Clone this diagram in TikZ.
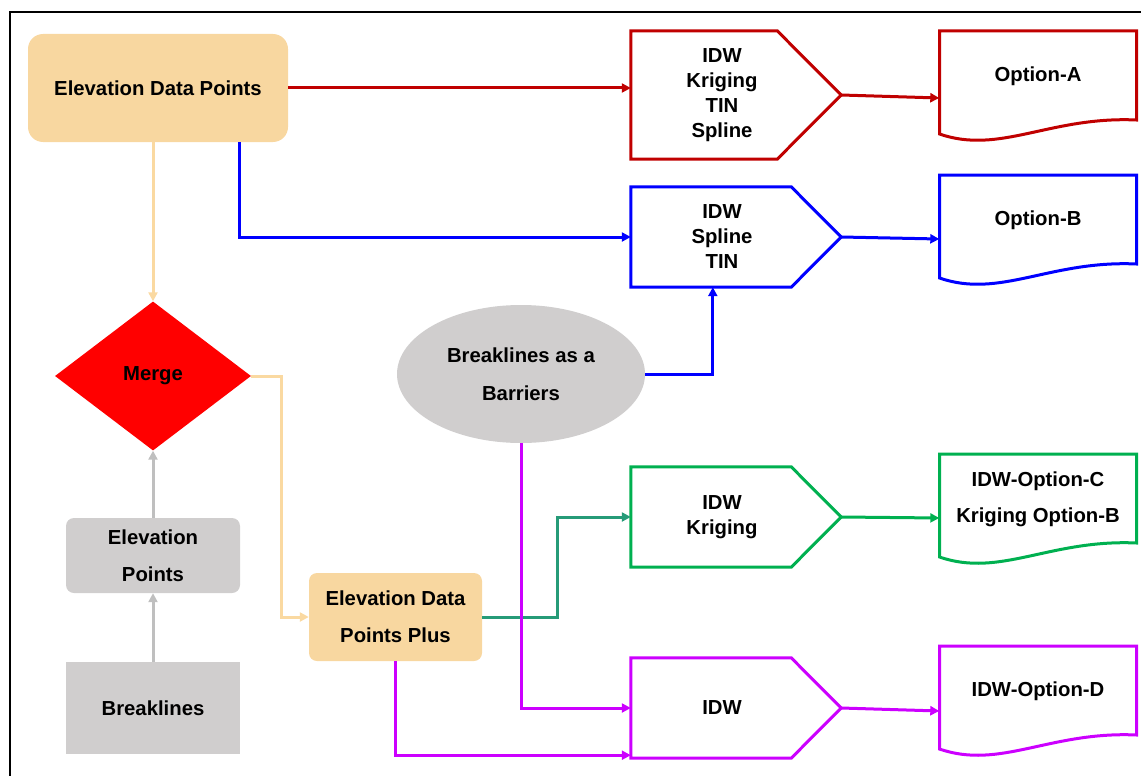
\documentclass[tikz,border=0pt]{standalone}
\usepackage{fontspec}
\setmainfont{Liberation Sans}
\usetikzlibrary{shapes.geometric,calc,arrows.meta}

\definecolor{peach}{RGB}{248,215,160}
\definecolor{peachline}{RGB}{250,217,161}
\definecolor{greybox}{RGB}{208,206,206}
\definecolor{greyline}{RGB}{191,191,191}
\definecolor{darkred}{RGB}{192,0,0}
\definecolor{pureblue}{RGB}{0,0,255}
\definecolor{flowgreen}{RGB}{0,176,80}
\definecolor{tealline}{RGB}{38,155,120}
\definecolor{violetline}{RGB}{204,0,255}

\tikzset{
  lbl/.style={font=\fontsize{20.3}{25}\selectfont\bfseries, align=center, text=black},
  box/.style={lbl, inner sep=0pt},
  conn/.style={line width=3pt, -{Triangle[length=9pt,width=9pt]}},
  outline/.style={line width=3pt, line join=miter},
  methodbox/.style={box, minimum width=182pt},
  docbox/.style={box, minimum width=197pt, minimum height=100pt},
}

% pentagon pointing right; the node covers the text area, the point sticks out 28pt
% arguments: node, colour, half height
\newcommand\pentaoutline[3]{%
  \draw[outline,#2] (#1.north west) -- ($(#1.north east)+(28-#3,0)$) -- ($(#1.east)+(28,0)$)
    -- ($(#1.south east)+(28-#3,0)$) -- (#1.south west) -- cycle;}
% document with wavy bottom edge: node, colour
\newcommand\docoutline[2]{%
  \draw[outline,#2] ($(#1.center)+(-98.5,-45)$) -- ($(#1.center)+(98.5,-45)$)
    -- ($(#1.center)+(98.5,44)$)
    .. controls ($(#1.center)+(12,40)$) and ($(#1.center)+(-38,79)$) ..
    ($(#1.center)+(-98.5,58)$) -- cycle;}

\begin{document}
\begin{tikzpicture}[x=1pt,y=-1pt]
\useasboundingbox (0,0) rectangle (1141,776);

% frame
\draw[line width=2pt] (10,776) -- (10,12) -- (1141,12);

% left column
\node[box, fill=peach, rounded corners=15pt, minimum width=260pt, minimum height=108pt] (edp) at (158,88) {Elevation Data Points};
\node[box, diamond, fill=red, minimum width=196pt, minimum height=149pt] (merge) at (153,376) {Merge};
\node[box, fill=greybox, rounded corners=8pt, minimum width=174pt, minimum height=75pt] (ep) at (153,555.5) {Elevation\\[12pt]Points};
\node[box, fill=greybox, minimum width=174pt, minimum height=92pt] (brk) at (153,708) {Breaklines};
\node[box, fill=peach, rounded corners=8pt, minimum width=173pt, minimum height=88pt] (edpp) at (395.5,617) {Elevation Data\\[12pt]Points Plus};
\node[box, ellipse, fill=greybox, minimum width=248pt, minimum height=138pt] (bar) at (521,374) {Breaklines as a\\[13pt]Barriers};

% interpolation methods
\node[methodbox, minimum height=128pt] (pA) at (722,95) {IDW\\Kriging\\TIN\\Spline};
\node[methodbox, minimum height=100pt] (pB) at (722,237) {IDW\\Spline\\TIN};
\node[methodbox, minimum height=100pt] (pC) at (722,517) {IDW\\Kriging};
\node[methodbox, minimum height=100pt] (pD) at (722,708) {IDW};
\pentaoutline{pA}{darkred}{64}
\pentaoutline{pB}{pureblue}{50}
\pentaoutline{pC}{flowgreen}{50}
\pentaoutline{pD}{violetline}{50}

% outputs
\node[docbox] (docA) at (1038,76) {Option-A};
\node[docbox] (docB) at (1038,220) {Option-B};
\node[docbox] (docC) at (1038,499) {IDW-Option-C\\[11pt]Kriging Option-B};
\node[docbox] (docD) at (1038,691) {IDW-Option-D};
\docoutline{docA}{darkred}
\docoutline{docB}{pureblue}
\docoutline{docC}{flowgreen}
\docoutline{docD}{violetline}

% connectors
\draw[conn, darkred] (edp.east) -- (edp.east -| pA.west);
\draw[conn, darkred] ($(pA.east)+(28,0)$) -- ($(docA.west)+(0,22)$);
\draw[conn, pureblue] ($(edp.south east)+(-49,0)$) |- (pB.west);
\draw[conn, pureblue] (bar.east) -| ($(pB.south west)+(82,0)$);
\draw[conn, pureblue] ($(pB.east)+(28,0)$) -- ($(docB.west)+(0,19)$);
\draw[conn, peachline] (merge.north |- edp.south) -- (merge.north);
\draw[conn, peachline] (merge.east) -- ++(30,0) |- (edpp.west);
\draw[conn, greyline] (ep.north) -- (merge.south);
\draw[conn, greyline] (brk.north) -- (ep.south);
\draw[conn, tealline] (edpp.east) -- ++(75,0) |- (pC.west);
\draw[conn, flowgreen] ($(pC.east)+(28,0)$) -- ($(docC.west)+(0,19)$);
\draw[conn, violetline] (bar.south) |- (pD.west);
\draw[conn, violetline] (edpp.south) |- ($(pD.south west)+(0,-3)$);
\draw[conn, violetline] ($(pD.east)+(28,0)$) -- ($(docD.west)+(0,20)$);
\end{tikzpicture}
\end{document}
